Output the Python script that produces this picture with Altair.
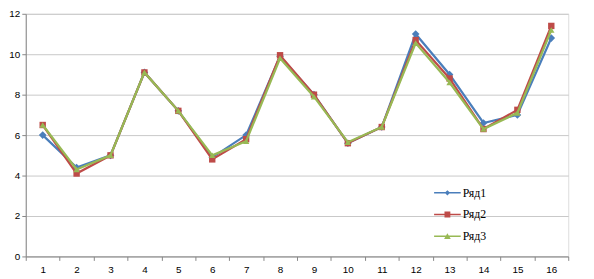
import altair as alt
import pandas as pd

categories = [str(i) for i in range(1, 17)]
series_names = ["Ряд1", "Ряд2", "Ряд3"]
r1 = [6.0, 4.4, 5.0, 9.1, 7.2, 4.9, 6.0, 9.9, 8.0, 5.6, 6.4, 11.0, 9.0, 6.6, 7.0, 10.8]
r2 = [6.5, 4.1, 5.0, 9.1, 7.2, 4.8, 5.8, 9.95, 8.0, 5.6, 6.4, 10.7, 8.8, 6.3, 7.25, 11.4]
r3 = [6.5, 4.3, 5.0, 9.1, 7.2, 5.0, 5.7, 9.8, 7.9, 5.65, 6.4, 10.55, 8.6, 6.3, 7.1, 11.2]
colors = ["#4A7EBB", "#BE4B48", "#98B954"]
point_shapes = ["diamond", "square", "triangle-up"]
legend_shapes = [
    "M-1,-0.055H1V0.055H-1Z M0,-0.2L0.2,0L0,0.2L-0.2,0Z",
    "M-1,-0.055H1V0.055H-1Z M-0.22,-0.22H0.22V0.22H-0.22Z",
    "M-1,-0.055H1V0.055H-1Z M0,-0.22L0.25,0.2H-0.25Z",
]
y_ticks = [0, 2, 4, 6, 8, 10, 12]

rows = []
for name, vals in zip(series_names, [r1, r2, r3]):
    for c, v in zip(categories, vals):
        rows.append({"cat": c, "series": name, "value": v})
df = pd.DataFrame(rows)

x_enc = alt.X(
    "cat:O",
    sort=categories,
    bandPosition=0.5,
    scale=alt.Scale(type="band", paddingInner=0, paddingOuter=0),
    axis=alt.Axis(
        title=None, labelAngle=0, tickBand="extent", tickSize=4,
        labelPadding=4, labelFont="Liberation Sans", labelFontSize=10,
        labelColor="#000000", domainColor="#868686", tickColor="#868686",
        grid=False,
    ),
)
y_enc = alt.Y(
    "value:Q",
    scale=alt.Scale(domain=[0, 12], nice=False),
    axis=alt.Axis(
        title=None, values=y_ticks, tickSize=4, labelPadding=2,
        labelFont="Liberation Sans", labelFontSize=10, labelColor="#000000",
        domainColor="#868686", tickColor="#868686", gridColor="#C8C8C8",
        gridWidth=1,
    ),
)
color_scale = alt.Scale(domain=series_names, range=colors)

layers = []
for name, col, shp in zip(series_names, colors, point_shapes):
    sub = df[df["series"] == name]
    line = alt.Chart(sub).mark_line(strokeWidth=2.25, color=col).encode(x=x_enc, y=y_enc)
    pts = alt.Chart(sub).mark_point(filled=True, opacity=1, shape=shp, color=col,
                                    size=60 if shp == "diamond" else 42).encode(x=x_enc, y=y_enc)
    layers += [line, pts]

leg = alt.Legend(title=None, orient="none", legendX=414, legendY=168)

legend_layer = alt.Chart(df).mark_point(filled=True, opacity=0).encode(
    x=x_enc,
    y=y_enc,
    color=alt.Color("series:N", scale=color_scale, legend=leg),
    shape=alt.Shape("series:N", scale=alt.Scale(domain=series_names, range=legend_shapes),
                    legend=leg),
)

chart = alt.layer(legend_layer, *layers).properties(
    width=550, height=246,
    padding={"left": 18, "top": 4, "right": 18, "bottom": 21},
    autosize=alt.AutoSizeParams(type="none"),
).configure_view(stroke=None).configure(background="white").configure_legend(
    padding=0, symbolSize=729, rowPadding=2, symbolOpacity=1, labelOffset=2,
    labelFont="Liberation Serif, DejaVu Serif, serif", labelFontSize=12,
    labelColor="#000000", symbolStrokeWidth=0, labelLimit=200,
)

chart.save("out.html", embed_options={"renderer": "svg", "actions": False})
